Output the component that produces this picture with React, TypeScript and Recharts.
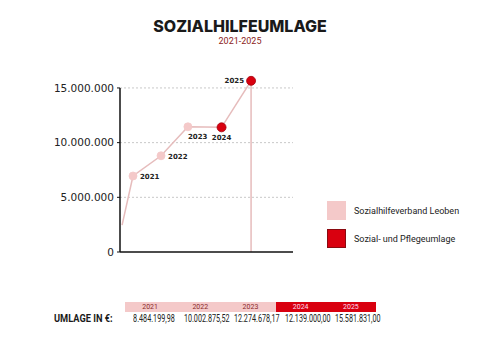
import React from "react";
import {
  Line,
  LineChart,
  ReferenceLine,
  XAxis,
  YAxis,
} from "recharts";

// line path as drawn in the original graphic (x = position along the year axis)
const pointYears = [2020.63, 2021, 2021.95, 2022.86, 2024, 2025, 2025];
const pointValues = [2450000, 6950000, 8800000, 11450000, 11400000, 15650000, 0];
const pointLabels = ["", "2021", "2022", "2023", "2024", "2025", ""];
const yTicks = [0, 5000000, 10000000, 15000000];

// table below the chart
const tableYears = ["2021", "2022", "2023", "2024", "2025"];
const tableAmounts = [
  "8.484.199,98",
  "10.002.875,52",
  "12.274.678,17",
  "12.139.000,00",
  "15.581.831,00",
];
const tableGroups = [0, 0, 0, 1, 1];

const legendItems = ["Sozialhilfeverband Leoben", "Sozial- und Pflegeumlage"];

const PINK = "#f4c9c9";
const RED = "#d9000f";
const LINE = "#e6bcbc";
const X_MIN = 2020.56;
const X_MAX = 2026.42;

const isRed = (label: string) => label === "2024" || label === "2025";

// where each point label sits relative to its dot
const labelPlacement: Record<string, { dx: number; dy: number; anchor: "start" | "middle" | "end" }> = {
  "2021": { dx: 7, dy: 3, anchor: "start" },
  "2022": { dx: 7, dy: 3, anchor: "start" },
  "2023": { dx: 0, dy: 12, anchor: "start" },
  "2024": { dx: 0, dy: 13, anchor: "middle" },
  "2025": { dx: -7, dy: 2, anchor: "end" },
};

const data = pointYears.map((x, i) => ({
  x,
  value: pointValues[i],
  label: pointLabels[i],
}));

const fmt = (v: number) => v.toLocaleString("de-DE");

function PointDot(props: any) {
  const { cx, cy, payload, index } = props;
  if (!payload.label) return <g key={`d${index}`} />;
  const p = labelPlacement[payload.label];
  const red = isRed(payload.label);
  return (
    <g key={`d${index}`}>
      <circle
        cx={cx}
        cy={cy}
        r={red ? 4.5 : 4}
        fill={red ? RED : PINK}
        stroke={red ? "#a3000b" : PINK}
        strokeWidth={0.8}
      />
      <text
        x={cx + p.dx}
        y={cy + p.dy}
        textAnchor={p.anchor}
        fontSize={7}
        fontWeight={600}
        fontFamily="DejaVu Sans"
        fill="#222"
      >
        {payload.label}
      </text>
    </g>
  );
}

const squeeze = (scale: number, origin: string): React.CSSProperties => ({
  display: "inline-block",
  transform: `scaleX(${scale})`,
  transformOrigin: origin,
  whiteSpace: "nowrap",
});

export default function App() {
  return (
    <div
      style={{
        position: "absolute",
        left: 0,
        top: 0,
        width: 480,
        height: 340,
        background: "#fff",
        fontFamily: "Roboto, sans-serif",
        color: "#222",
      }}
    >
      <div
        style={{
          position: "absolute",
          top: 16,
          width: 480,
          textAlign: "center",
          fontFamily: "Inter",
          fontWeight: 800,
          fontSize: 16,
          color: "#1a1a1a",
        }}
      >
        SOZIALHILFEUMLAGE
      </div>
      <div
        style={{
          position: "absolute",
          top: 36,
          width: 480,
          textAlign: "center",
          fontSize: 9,
          color: "#8c1c22",
        }}
      >
        2021-2025
      </div>

      <div style={{ position: "absolute", left: 0, top: 0 }}>
        <LineChart
          width={300}
          height={262}
          data={data}
          margin={{ top: 77, right: 7, left: 0, bottom: 0 }}
        >
          <XAxis
            type="number"
            dataKey="x"
            domain={[X_MIN, X_MAX]}
            height={10}
            tick={false}
            tickLine={false}
            axisLine={{ stroke: "#111", strokeWidth: 1.5 }}
          />
          <YAxis
            type="number"
            domain={[0, 16000000]}
            ticks={yTicks}
            width={120}
            tickFormatter={fmt}
            tick={{ fontSize: 10.5, fill: "#222", fontFamily: "DejaVu Sans" }}
            tickSize={3}
            tickMargin={3}
            tickLine={{ stroke: "#111" }}
            axisLine={false}
          />
          {yTicks
            .filter((t) => t > 0)
            .map((t) => (
              <ReferenceLine
                key={t}
                y={t}
                stroke="#c8c8c8"
                strokeDasharray="2 2"
              />
            ))}
          <ReferenceLine
            segment={[
              { x: X_MIN, y: 0 },
              { x: X_MIN, y: 15000000 },
            ]}
            stroke="#111"
            strokeWidth={1.5}
          />
          <Line
            type="linear"
            dataKey="value"
            stroke={LINE}
            strokeWidth={1.5}
            dot={PointDot}
            activeDot={false}
            isAnimationActive={false}
          />
        </LineChart>
      </div>

      {legendItems.map((name, i) => (
        <div
          key={name}
          style={{
            position: "absolute",
            left: 327,
            top: 201 + i * 28,
            display: "flex",
            alignItems: "center",
          }}
        >
          <div
            style={{
              width: 19,
              height: 19,
              boxSizing: "border-box",
              background: i === 0 ? PINK : RED,
              border: i === 0 ? "none" : "1px solid #8a0a10",
            }}
          />
          <span style={{ marginLeft: 8, fontSize: 9, color: "#222" }}>{name}</span>
        </div>
      ))}

      <div
        style={{
          position: "absolute",
          left: 54,
          top: 312,
          fontWeight: 700,
          fontSize: 11,
          color: "#1a1a1a",
        }}
      >
        <span style={squeeze(0.84, "left center")}>UMLAGE IN €:</span>
      </div>
      {tableYears.map((year, i) => {
        const red = tableGroups[i] === 1;
        return (
          <React.Fragment key={year}>
            <div
              style={{
                position: "absolute",
                left: 125 + i * 50.2,
                top: 302,
                width: 50.2,
                height: 10,
                background: red ? RED : PINK,
                color: red ? "#fde" : "#8a2a2a",
                fontSize: 7,
                lineHeight: "10px",
                textAlign: "center",
              }}
            >
              {year}
            </div>
            <div
              style={{
                position: "absolute",
                left: 125 + i * 50.2,
                top: 313,
                width: 50.2,
                textAlign: "center",
                fontSize: 10,
                color: "#222",
              }}
            >
              <span style={squeeze(0.72, "center center")}>{tableAmounts[i]}</span>
            </div>
          </React.Fragment>
        );
      })}
    </div>
  );
}
